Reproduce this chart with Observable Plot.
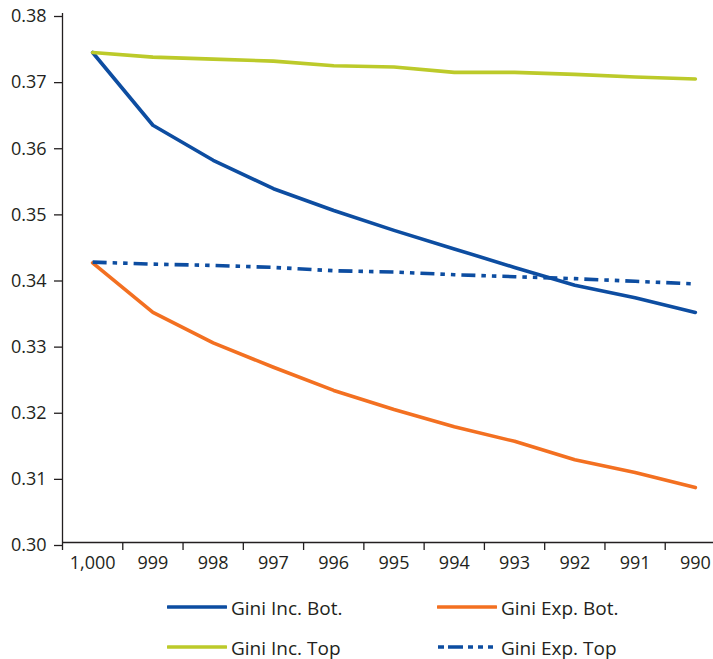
<!DOCTYPE html>
<html><head><meta charset="utf-8">
<script src="https://cdn.jsdelivr.net/npm/d3@7"></script>
<script src="https://cdn.jsdelivr.net/npm/@observablehq/plot@0.6"></script>
<style>
body{margin:0;background:#fff;font-family:"Open Sans",sans-serif;}
#wrap{position:relative;width:713px;height:659px;overflow:hidden;}
#chart svg{display:block;}
#legend{position:absolute;left:0;top:585px;width:713px;height:74px;}
.item{position:absolute;display:flex;align-items:center;font-size:19px;line-height:19px;color:#231f20;white-space:nowrap;}
.item svg{margin-right:4px;}
</style>
</head><body>
<div id="wrap"><div id="chart"></div><div id="legend"></div></div>
<script>
const categories = ["1,000","999","998","997","996","995","994","993","992","991","990"];
const giniIncBot = [0.3741,0.3631,0.3578,0.3535,0.3502,0.3472,0.3444,0.3416,0.3389,0.3370,0.3348];
const giniExpBot = [0.3423,0.3348,0.3302,0.3265,0.3230,0.3201,0.3175,0.3153,0.3125,0.3106,0.3083];
const giniIncTop = [0.3741,0.3734,0.3731,0.3728,0.3721,0.3719,0.3711,0.3711,0.3708,0.3704,0.3701];
const giniExpTop = [0.3424,0.3421,0.3419,0.3416,0.3411,0.3409,0.3405,0.3402,0.3399,0.3395,0.3391];
const yTicks = [0.30,0.31,0.32,0.33,0.34,0.35,0.36,0.37,0.38];
const seriesNames = ["Gini Inc. Bot.","Gini Exp. Bot.","Gini Inc. Top","Gini Exp. Top"];
const seriesColors = ["#0d4da1","#f37021","#bcca2a","#0d4da1"];
const seriesDash = [null,null,null,"14,6,4.5,6,4.5,6"];
const legendDash = [null,null,null,"6,4,15,5,5,5,5,5,5,10"];
const seriesValues = [giniIncBot, giniExpBot, giniIncTop, giniExpTop];

const ink = "#231f20";
const idx = categories.map((_, i) => i);
const bounds = categories.map((_, i) => i - 0.5);

const lineMarks = seriesValues.map((vals, s) =>
  Plot.line(vals.map((v, i) => ({i, v})), {
    x: "i", y: "v", stroke: seriesColors[s], strokeWidth: 3.6,
    strokeDasharray: seriesDash[s] || undefined,
    strokeLinecap: seriesDash[s] ? "butt" : "round", strokeLinejoin: "round"
  }));

const chart = Plot.plot({
  width: 713, height: 585,
  marginLeft: 62, marginRight: 0, marginTop: 13, marginBottom: 43,
  style: {fontFamily: '"Open Sans", sans-serif', fontSize: "18px", color: ink, background: "#fff"},
  x: {type: "linear", domain: [-0.5, 10.5], range: [62, 725]},
  y: {domain: [0.30, 0.38]},
  marks: [
    Plot.axisY(yTicks, {tickSize: 8, tickPadding: 8, tickFormat: d => d.toFixed(2), label: null, stroke: ink, strokeWidth: 1.3, fill: ink, fontSize: 18, dy: 3}),
    Plot.axisX(bounds, {tickSize: 8, tickFormat: () => "", label: null, stroke: ink, strokeWidth: 1.3}),
    Plot.axisX(idx, {tickSize: 0, tickPadding: 14, tickFormat: i => categories[i], label: null, fill: ink, fontSize: 18}),
    Plot.ruleX([-0.5], {stroke: ink, strokeWidth: 1.3}),
    Plot.ruleY([0.30], {stroke: ink, strokeWidth: 1.3}),
    ...lineMarks
  ]
});
document.getElementById("chart").appendChild(chart);

// legend
const legend = document.getElementById("legend");
const pos = [[167, 23], [437, 23], [167, 63], [437, 63]];
seriesNames.forEach((name, s) => {
  const d = document.createElement("div");
  d.className = "item";
  d.style.left = pos[s][0] + "px";
  d.style.top = (pos[s][1] - 10) + "px";
  d.style.height = "20px";
  d.innerHTML = `<svg width="60" height="8"><line x1="1" x2="59" y1="3" y2="3" stroke="${seriesColors[s]}" stroke-width="3.6" ${legendDash[s] ? `stroke-dasharray="${legendDash[s]}"` : 'stroke-linecap="round"'}/></svg><span>${name}</span>`;
  legend.appendChild(d);
});
</script>
</body></html>
